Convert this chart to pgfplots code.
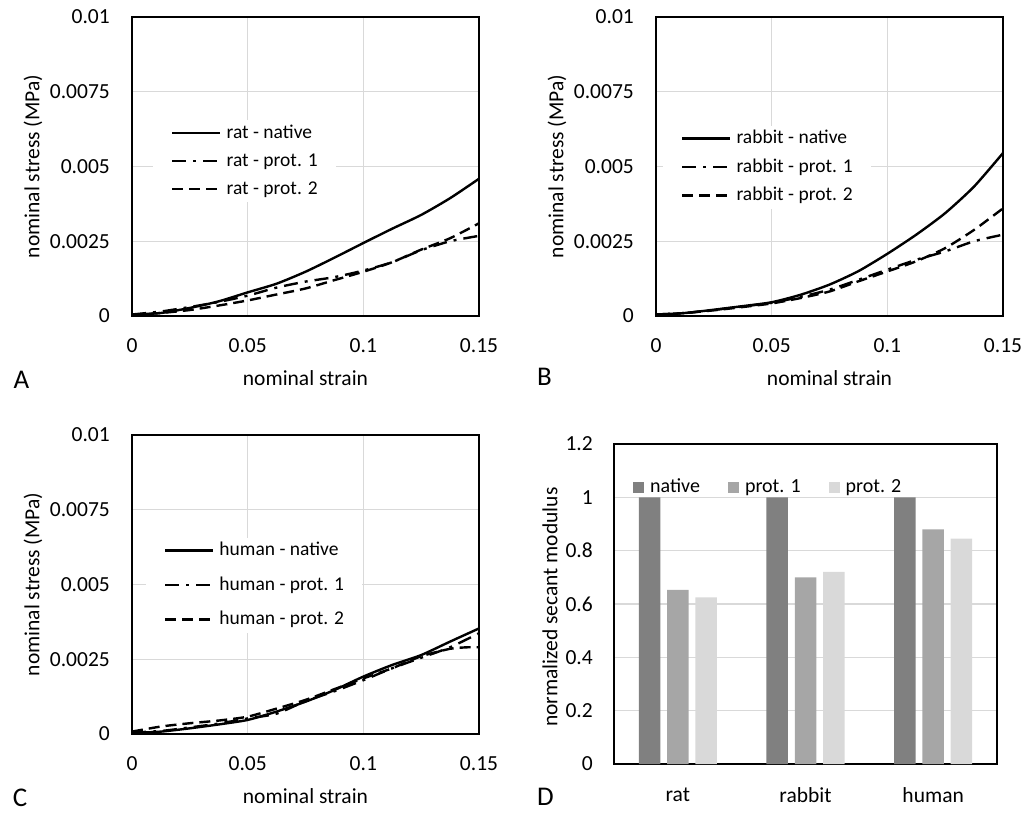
\documentclass[border=0pt]{standalone}
\usepackage{fontspec}
\setmainfont{Carlito}
\usepackage{pgfplots}
\pgfplotsset{compat=1.18}
\definecolor{gridc}{HTML}{D9D9D9}
\definecolor{cnat}{HTML}{808080}
\definecolor{cp1}{HTML}{A6A6A6}
\definecolor{cp2}{HTML}{D9D9D9}
\newcommand{\tfont}{\fontsize{21.5}{24}\selectfont}
\newcommand{\lfont}{\fontsize{19.5}{22}\selectfont}
\pgfplotsset{
  base/.style={
    scale only axis, scaled ticks=false,
    major tick length=0pt,
    axis line style={line width=1.6pt, black},
    tick label style={font=\tfont, inner sep=0pt},
    xticklabel style={anchor=center, yshift=-30pt},
    yticklabel style={anchor=east, xshift=-22pt},
  },
  panel/.style={
    base,
    width=347pt, height=299pt,
    xmin=0, xmax=0.15, ymin=0, ymax=0.01,
    xtick={0,0.05,0.1,0.15}, xticklabels={0,0.05,0.1,0.15},
    ytick={0,0.0025,0.005,0.0075,0.01}, yticklabels={0,0.0025,0.005,0.0075,0.01},
    grid=major, major grid style={gridc, line width=1.3pt},
    xlabel={nominal strain}, ylabel={nominal stress (MPa)},
    every axis x label/.style={at={(axis description cs:0.5,-0.207)}, anchor=center, font=\tfont},
    every axis y label/.style={at={(axis description cs:-0.285,0.5)}, rotate=90, anchor=center, font=\tfont},
    legend cell align=left,
    legend image code/.code={\draw[##1, line width=2.4pt] (0pt,0pt) -- (48pt,0pt);},
  },
  lstyle/.style n args={3}{legend style={at={(axis description cs:#1,#2)}, anchor=west, fill=white, draw=none,
      inner xsep=18pt, inner ysep=4pt, row sep=#3, column sep=5pt,
      nodes={inner sep=0pt, text height=14pt, text depth=4pt, font=\lfont}}},
  nat/.style={black, line width=2.4pt, solid, smooth, tension=0.4},
  pa/.style={black, line width=2.4pt, dash pattern=on 14pt off 7pt on 3pt off 7pt, smooth, tension=0.4},
  pb/.style={black, line width=2.4pt, dash pattern=on 11pt off 6pt, smooth, tension=0.4},
}
\begin{document}
\begin{tikzpicture}
\path[use as bounding box] (0pt,0pt) rectangle (1024pt,816pt);

% ---------- A : rat ----------
\begin{axis}[panel, at={(132pt,500pt)}, anchor=south west, lstyle={0.0605}{0.518}{10pt}]
\addplot[nat] coordinates {(0,0.00005) (0.0125,0.0001) (0.025,0.00027) (0.0375,0.00049) (0.05,0.00079) (0.0625,0.00108) (0.075,0.00148) (0.0875,0.00195) (0.1,0.00244) (0.1125,0.00292) (0.125,0.00338) (0.1375,0.00394) (0.15,0.00459)};
\addlegendentry{rat - native}
\addplot[pa] coordinates {(0,0.00005) (0.0125,0.00015) (0.025,0.0003) (0.0375,0.00047) (0.05,0.00068) (0.0625,0.00095) (0.075,0.00115) (0.0875,0.0013) (0.1,0.00152) (0.1125,0.0018) (0.125,0.0022) (0.1375,0.0025) (0.15,0.00268)};
\addlegendentry{rat - prot. 1}
\addplot[pb] coordinates {(0,0.00003) (0.0125,0.0001) (0.025,0.0002) (0.0375,0.00035) (0.05,0.00052) (0.0625,0.00072) (0.075,0.00092) (0.0875,0.0012) (0.1,0.00148) (0.1125,0.0018) (0.125,0.00222) (0.1375,0.0026) (0.15,0.0031)};
\addlegendentry{rat - prot. 2}
\end{axis}

% ---------- B : rabbit ----------
\begin{axis}[panel, at={(656pt,500pt)}, anchor=south west, lstyle={0.02}{0.498}{10.5pt}]
\addplot[nat] coordinates {(0,0.00005) (0.0125,0.0001) (0.025,0.00021) (0.0375,0.00033) (0.05,0.00046) (0.0625,0.00071) (0.075,0.00105) (0.0875,0.0015) (0.1,0.00208) (0.1125,0.00272) (0.125,0.00344) (0.1375,0.00433) (0.15,0.00545)};
\addlegendentry{rabbit - native}
\addplot[pa] coordinates {(0,0.00005) (0.0125,0.0001) (0.025,0.0002) (0.0375,0.00032) (0.05,0.00044) (0.0625,0.00064) (0.075,0.00088) (0.0875,0.00121) (0.1,0.00155) (0.1125,0.00188) (0.125,0.00216) (0.1375,0.0025) (0.15,0.00272)};
\addlegendentry{rabbit - prot. 1}
\addplot[pb] coordinates {(0,0.00003) (0.0125,0.0001) (0.025,0.00019) (0.0375,0.0003) (0.05,0.00042) (0.0625,0.0006) (0.075,0.00082) (0.0875,0.00116) (0.1,0.00149) (0.1125,0.00183) (0.125,0.00227) (0.1375,0.00288) (0.15,0.0036)};
\addlegendentry{rabbit - prot. 2}
\end{axis}

% ---------- C : human ----------
\begin{axis}[panel, at={(132pt,82pt)}, anchor=south west, lstyle={0.04}{0.498}{16.5pt}]
\addplot[nat] coordinates {(0,0.00003) (0.0125,0.00008) (0.025,0.00019) (0.0375,0.00032) (0.05,0.00047) (0.0625,0.00075) (0.075,0.00108) (0.0875,0.00147) (0.1,0.00192) (0.1125,0.00231) (0.125,0.00264) (0.1375,0.00309) (0.15,0.00353)};
\addlegendentry{human - native}
\addplot[pa] coordinates {(0,0.00005) (0.0125,0.0001) (0.025,0.00022) (0.0375,0.00035) (0.05,0.00052) (0.0625,0.00068) (0.075,0.0011) (0.0875,0.00143) (0.1,0.0018) (0.1125,0.0022) (0.125,0.00255) (0.1375,0.0029) (0.15,0.00337)};
\addlegendentry{human - prot. 1}
\addplot[pb] coordinates {(0,0.00008) (0.0125,0.00025) (0.025,0.00036) (0.0375,0.00045) (0.05,0.00058) (0.0625,0.00085) (0.075,0.00114) (0.0875,0.0015) (0.1,0.00186) (0.1125,0.0022) (0.125,0.0026) (0.1375,0.00285) (0.145,0.0029) (0.15,0.0029)};
\addlegendentry{human - prot. 2}
\end{axis}

% ---------- D : bars ----------
\begin{axis}[base, at={(614pt,52pt)}, anchor=south west,
  width=383pt, height=320pt,
  xmin=-0.5, xmax=2.5, ymin=0, ymax=1.2,
  xtick={0,1,2}, xticklabels={rat,rabbit,human},
  ytick={0,0.2,0.4,0.6,0.8,1,1.2}, yticklabels={0,0.2,0.4,0.6,0.8,1,1.2},
  xticklabel style={yshift=-1pt},
  yticklabel style={xshift=1pt},
  ymajorgrids, major grid style={gridc, line width=1.3pt},
  ylabel={normalized secant modulus},
  every axis y label/.style={at={(axis description cs:-0.167,0.49)}, rotate=90, anchor=center, font=\tfont},
  ybar=6.8pt, bar width=21.5pt,
  legend columns=3,
  legend image code/.code={\path[#1] (0pt,-5.5pt) rectangle (11pt,5.5pt);},
  legend style={at={(axis description cs:0.0496,0.8625)}, anchor=west, fill=none, draw=none,
    inner sep=0pt, column sep=6pt,
    /tikz/every even column/.append style={column sep=28pt},
    nodes={inner sep=0pt, font=\fontsize{20}{22}\selectfont, text height=14pt, text depth=4pt}},
  legend cell align=left,
]
\addplot[fill=cnat, draw=none] coordinates {(0,1) (1,1) (2,1)};
\addlegendentry{native}
\addplot[fill=cp1, draw=none] coordinates {(0,0.653) (1,0.70) (2,0.88)};
\addlegendentry{prot. 1}
\addplot[fill=cp2, draw=none] coordinates {(0,0.625) (1,0.72) (2,0.845)};
\addlegendentry{prot. 2}
\end{axis}

% panel letters
\node[font=\fontsize{27}{30}\selectfont, anchor=center] at (21.5pt,436pt) {A};
\node[font=\fontsize{27}{30}\selectfont, anchor=center] at (544.5pt,439pt) {B};
\node[font=\fontsize{27}{30}\selectfont, anchor=center] at (20pt,18pt) {C};
\node[font=\fontsize{27}{30}\selectfont, anchor=center] at (545.5pt,19pt) {D};
\end{tikzpicture}
\end{document}
